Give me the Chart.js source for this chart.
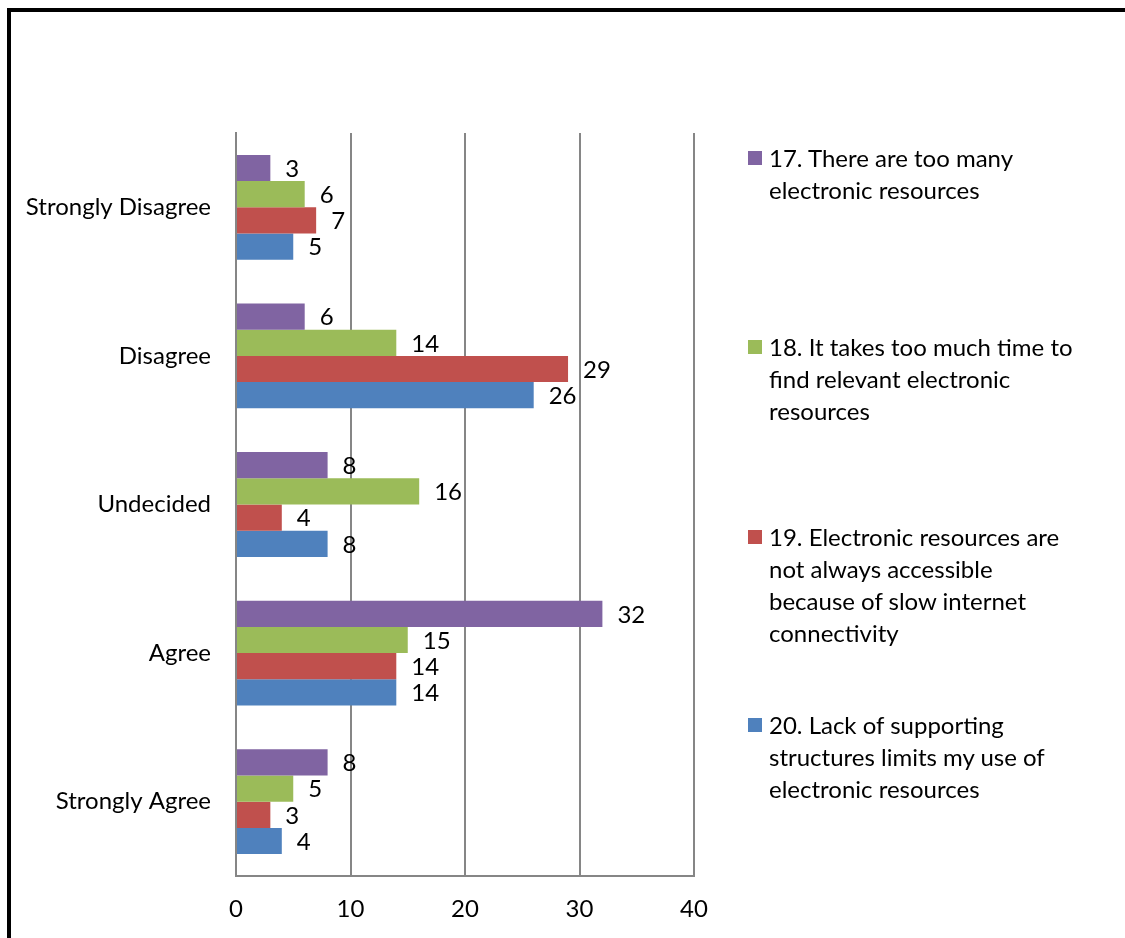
<!DOCTYPE html>
<html>
<head>
<meta charset="utf-8">
<script src="https://cdn.jsdelivr.net/npm/chart.js@4.4.1/dist/chart.umd.min.js"></script>
<style>
    body { margin: 0; background: #fff; }
    #wrap { position: relative; width: 1125px; height: 938px; overflow: hidden; }
    #frame {
        position: absolute; left: 7px; top: 8px; right: -10px; bottom: -10px;
        border-left: 4px solid #000; border-top: 4px solid #000;
    }
    #chart { position: absolute; left: 0; top: 0; }
    #legend { position: absolute; left: 748px; top: 0; width: 377px; }
    .item { position: absolute; left: 0; }
    .item .box { position: absolute; left: 0; top: 9px; width: 14px; height: 14px; }
    .item .txt {
        position: absolute; left: 21px; top: 0; white-space: nowrap;
        font-family: Lato, sans-serif; font-size: 24px; line-height: 32px; color: #000;
    }
</style>
</head>
<body>
<div id="wrap">
    <div id="frame"></div>
    <canvas id="chart" width="1125" height="938"></canvas>
    <div id="legend"></div>
</div>
<script>
// ===================================
// Electronic resources survey chart
// ===================================

const categories = ['Strongly Disagree', 'Disagree', 'Undecided', 'Agree', 'Strongly Agree'];

// legend text, one entry per line as in the original
const seriesNames = [
    ['17. There are too many', 'electronic resources'],
    ['18. It takes too much time to', 'find relevant electronic', 'resources'],
    ['19. Electronic resources are', 'not always accessible', 'because of slow internet', 'connectivity'],
    ['20. Lack of supporting', 'structures limits my use of', 'electronic resources']
];

const q17 = [3, 6, 8, 32, 8];
const q18 = [6, 14, 16, 15, 5];
const q19 = [7, 29, 4, 14, 3];
const q20 = [5, 26, 8, 14, 4];

const xTicks = [0, 10, 20, 30, 40];

const colors = ['#8064A2', '#9BBB59', '#C0504D', '#4F81BD'];

Chart.defaults.font.family = 'Lato';
Chart.defaults.font.size = 24;
Chart.defaults.color = '#000';

/**
 * Value labels drawn just past the end of each bar
 */
const valueLabels = {
    id: 'valueLabels',
    afterDatasetsDraw(chart) {
        const ctx = chart.ctx;
        ctx.save();
        ctx.font = '24px Lato';
        ctx.fillStyle = '#000';
        ctx.textAlign = 'left';
        ctx.textBaseline = 'middle';
        chart.data.datasets.forEach((ds, i) => {
            const meta = chart.getDatasetMeta(i);
            meta.data.forEach((bar, j) => {
                ctx.fillText(String(ds.data[j]), bar.x + 15, bar.y + 1);
            });
        });
        ctx.restore();
    }
};

const seriesData = [q17, q18, q19, q20];

const chart = new Chart(document.getElementById('chart').getContext('2d'), {
    type: 'bar',
    data: {
        labels: categories,
        datasets: seriesData.map((values, i) => ({
            label: seriesNames[i].join(' '),
            data: values,
            backgroundColor: colors[i],
            borderWidth: 0,
            categoryPercentage: 0.705,
            barPercentage: 1
        }))
    },
    options: {
        indexAxis: 'y',
        responsive: false,
        animation: false,
        events: [],
        layout: {
            padding: { left: 12, top: 133, right: 431, bottom: 0 }
        },
        plugins: {
            legend: { display: false },
            tooltip: { enabled: false }
        },
        scales: {
            x: {
                min: 0,
                max: 40,
                afterBuildTicks: scale => {
                    scale.ticks = xTicks.map(v => ({ value: v }));
                },
                afterFit: scale => { scale.height = 62; },
                grid: {
                    color: '#868686',
                    lineWidth: 2,
                    drawTicks: false
                },
                border: { color: '#868686', width: 2 },
                ticks: { padding: 19 }
            },
            y: {
                afterFit: scale => { scale.width = 224; },
                grid: { display: false, drawTicks: false },
                border: { color: '#868686', width: 2 },
                ticks: { padding: 25 }
            }
        }
    },
    plugins: [valueLabels]
});

// HTML legend built from the datasets
const legendTops = [142, 331, 521, 709];
const legendEl = document.getElementById('legend');
chart.data.datasets.forEach((ds, i) => {
    const item = document.createElement('div');
    item.className = 'item';
    item.style.top = legendTops[i] + 'px';
    const box = document.createElement('div');
    box.className = 'box';
    box.style.background = ds.backgroundColor;
    const txt = document.createElement('div');
    txt.className = 'txt';
    seriesNames[i].forEach((line, k) => {
        if (k) txt.appendChild(document.createElement('br'));
        txt.appendChild(document.createTextNode(line));
    });
    item.appendChild(box);
    item.appendChild(txt);
    legendEl.appendChild(item);
});
</script>
</body>
</html>
